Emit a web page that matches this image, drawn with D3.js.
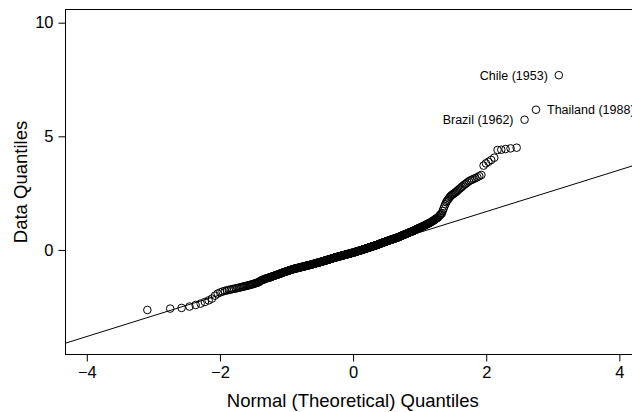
<!DOCTYPE html>
<html>
<head>
<meta charset="utf-8">
<script src="https://cdn.jsdelivr.net/npm/d3@7"></script>
<style>
    body { margin: 0; background: #fff; }
    svg { display: block; font-family: "Liberation Sans", Arial, Helvetica, sans-serif; }
    .tick line { stroke: #000; }
    .tick text { font-size: 16.5px; fill: #000; }
    .axis-title { font-size: 18.5px; fill: #000; }
    .label { font-size: 12.5px; fill: #000; }
</style>
</head>
<body>
<div id="chart"></div>
<script>
//Datos (ordenados, 500 observaciones)
const dataValues = [
    -2.64, -2.58, -2.55, -2.49, -2.42, -2.36, -2.29, -2.22, -2.14, -2.01, -1.92, -1.87,
    -1.83, -1.80,
    -1.78, -1.76, -1.74, -1.72, -1.71, -1.69, -1.68, -1.66, -1.65, -1.63,
    -1.62, -1.60, -1.59, -1.58, -1.56, -1.55, -1.54, -1.52, -1.51, -1.50,
    -1.48, -1.47, -1.45, -1.44, -1.42, -1.41, -1.38, -1.35, -1.33, -1.32,
    -1.30, -1.29, -1.28, -1.26, -1.25,
    -1.24, -1.23, -1.22, -1.21, -1.20, -1.19, -1.17, -1.16, -1.15, -1.14,
    -1.13, -1.12, -1.11, -1.10, -1.09, -1.08, -1.07, -1.06, -1.05, -1.04,
    -1.03, -1.02, -1.01, -1.00, -0.99, -0.98, -0.97, -0.96, -0.96, -0.95,
    -0.94, -0.93, -0.92, -0.92, -0.91, -0.90, -0.89, -0.88, -0.88, -0.87,
    -0.86, -0.85, -0.85, -0.84, -0.84, -0.83, -0.82, -0.82, -0.81, -0.81,
    -0.80, -0.80, -0.79, -0.79, -0.78, -0.78, -0.77, -0.77, -0.76, -0.76,
    -0.75, -0.75, -0.74, -0.74, -0.73, -0.73, -0.72, -0.72, -0.71, -0.71, -0.70, -0.70, -0.69, -0.69, -0.68,
    -0.68, -0.68, -0.67, -0.67, -0.66, -0.66, -0.65, -0.65, -0.64, -0.64,
    -0.63, -0.63, -0.62, -0.62, -0.61, -0.61, -0.60, -0.60, -0.59, -0.59,
    -0.58, -0.58, -0.57, -0.57, -0.56,
    -0.56, -0.56, -0.55, -0.55, -0.54, -0.54, -0.53, -0.53, -0.52, -0.52,
    -0.51, -0.51, -0.50, -0.50, -0.49, -0.49, -0.48, -0.48, -0.47, -0.47,
    -0.46, -0.46, -0.45, -0.45, -0.44,
    -0.44, -0.44, -0.43, -0.43, -0.42, -0.42, -0.41, -0.41, -0.40, -0.40,
    -0.39, -0.39, -0.38, -0.38, -0.37, -0.37, -0.36, -0.36, -0.35, -0.35,
    -0.34, -0.34, -0.33, -0.33, -0.32,
    -0.32, -0.32, -0.31, -0.31, -0.31, -0.30, -0.30, -0.29, -0.29, -0.28,
    -0.28, -0.28, -0.27, -0.27, -0.26, -0.26, -0.26, -0.25, -0.25, -0.24,
    -0.24, -0.24, -0.23, -0.23, -0.22,
    -0.22, -0.22, -0.21, -0.21, -0.21, -0.20, -0.20, -0.19, -0.19, -0.18,
    -0.18, -0.18, -0.17, -0.17, -0.16, -0.16, -0.16, -0.15, -0.15, -0.14,
    -0.14, -0.14, -0.13, -0.13, -0.12,
    -0.12, -0.12, -0.11, -0.11, -0.10, -0.10, -0.09, -0.09, -0.08, -0.08,
    -0.08, -0.07, -0.07, -0.06, -0.06, -0.05, -0.05, -0.04, -0.04, -0.03,
    -0.03, -0.03, -0.02, -0.02, -0.01,
    -0.01, 0.00, 0.00, 0.01, 0.01, 0.02, 0.02, 0.03, 0.03, 0.04,
    0.04, 0.05, 0.05, 0.06, 0.06, 0.07, 0.07, 0.08, 0.08, 0.09,
    0.09, 0.10, 0.10, 0.11, 0.11,
    0.12, 0.12, 0.13, 0.13, 0.14, 0.14, 0.15, 0.15, 0.16, 0.16,
    0.17, 0.17, 0.18, 0.18, 0.19, 0.19, 0.20, 0.20, 0.21, 0.21,
    0.22, 0.22, 0.23, 0.23, 0.24,
    0.25, 0.26, 0.26, 0.27, 0.27, 0.28, 0.29, 0.29, 0.30, 0.30,
    0.31, 0.32, 0.32, 0.33, 0.33, 0.34, 0.35, 0.35, 0.36, 0.36,
    0.37, 0.38, 0.38, 0.39, 0.39,
    0.40, 0.41, 0.41, 0.42, 0.42, 0.43, 0.44, 0.44, 0.45, 0.45,
    0.46, 0.47, 0.47, 0.48, 0.48, 0.49, 0.50, 0.50, 0.51, 0.51,
    0.52, 0.53, 0.53, 0.54, 0.54,
    0.55, 0.56, 0.57, 0.58, 0.58, 0.59, 0.60, 0.61, 0.62, 0.63,
    0.63, 0.64, 0.65, 0.66, 0.67, 0.68, 0.68, 0.69, 0.70, 0.71,
    0.72, 0.73, 0.73, 0.74, 0.75,
    0.76, 0.77, 0.78, 0.79, 0.80, 0.80, 0.81, 0.82, 0.83, 0.84,
    0.85, 0.86, 0.87, 0.88, 0.89, 0.91, 0.92, 0.93, 0.94, 0.95,
    0.96, 0.97, 0.98, 1.00, 1.01, 1.02, 1.03, 1.04, 1.06, 1.07,
    1.08, 1.09, 1.11, 1.12, 1.14, 1.15, 1.16, 1.18, 1.19, 1.21,
    1.22, 1.24, 1.26, 1.28, 1.30, 1.32, 1.35, 1.37, 1.39, 1.41,
    1.43, 1.47, 1.51, 1.55, 1.58,
    1.62, 1.72, 1.82, 1.92, 2.01,
    2.10, 2.16, 2.22, 2.27, 2.33, 2.38, 2.42, 2.45, 2.48, 2.52,
    2.55, 2.60, 2.64, 2.69, 2.73, 2.78, 2.83, 2.88, 2.92, 2.97,
    3.02, 3.06, 3.09, 3.13, 3.16,
    3.20, 3.25, 3.30,
    3.71, 3.81, 3.88, 3.96, 4.06,
    4.40, 4.41, 4.44, 4.47, 4.50,
    5.73, 6.17, 7.69
];

//Etiquetas de los puntos extremos (posición en los datos ordenados, base 1)
const labelNames = ['Brazil (1962)', 'Thailand (1988)', 'Chile (1953)'];
const labelRanks = [498, 499, 500];
const labelSides = ['left', 'right', 'left'];

//Ejes
const xTicks = [-4, -2, 0, 2, 4];
const yTicks = [0, 5, 10];
const xDomain = [-4.32, 4.31];
const yDomain = [-4.60, 10.58];

//Recta de referencia (qqline)
const lineSlope = 0.916;
const lineIntercept = -0.145;

//Cuantil de la normal estándar (Acklam)
function qnorm(p) {
    const a = [-3.969683028665376e+01, 2.209460984245205e+02, -2.759285104469687e+02, 1.383577518672690e+02, -3.066479806614716e+01, 2.506628277459239e+00];
    const b = [-5.447609879822406e+01, 1.615858368580409e+02, -1.556989798598866e+02, 6.680131188771972e+01, -1.328068155288572e+01];
    const c = [-7.784894002430293e-03, -3.223964580411365e-01, -2.400758277161838e+00, -2.549732539343734e+00, 4.374664141464968e+00, 2.938163982698783e+00];
    const d = [7.784695709041462e-03, 3.224671290700398e-01, 2.445134137142996e+00, 3.754408661907416e+00];
    const pl = 0.02425;
    let q, r;
    if (p < pl) {
        q = Math.sqrt(-2 * Math.log(p));
        return (((((c[0]*q + c[1])*q + c[2])*q + c[3])*q + c[4])*q + c[5]) / ((((d[0]*q + d[1])*q + d[2])*q + d[3])*q + 1);
    }
    if (p > 1 - pl) {
        return -qnorm(1 - p);
    }
    q = p - 0.5;
    r = q * q;
    return (((((a[0]*r + a[1])*r + a[2])*r + a[3])*r + a[4])*r + a[5]) * q / (((((b[0]*r + b[1])*r + b[2])*r + b[3])*r + b[4])*r + 1);
}

let sorted = dataValues.slice().sort(function(a, b) { return a - b; });
let n = sorted.length;
let points = sorted.map(function(v, i) {
    return { x: qnorm((i + 1 - 0.5) / n), y: v, rank: i + 1 };
});

let width = 632, height = 412;
let plot = { left: 65.5, right: 640, top: 9.5, bottom: 354.5 };

let svg = d3.select('#chart')
    .append('svg')
        .attr('width', width)
        .attr('height', height);

let x = d3.scaleLinear()
    .domain(xDomain)
    .range([plot.left, plot.right]);

let y = d3.scaleLinear()
    .domain(yDomain)
    .range([plot.bottom, plot.top]);

svg.append('defs').append('clipPath')
    .attr('id', 'clip')
    .append('rect')
        .attr('x', plot.left)
        .attr('y', plot.top)
        .attr('width', plot.right - plot.left)
        .attr('height', plot.bottom - plot.top);

// X axis
svg.append('g')
    .attr('transform', 'translate(0,' + plot.bottom + ')')
    .call(d3.axisBottom(x).tickValues(xTicks).tickSizeInner(7).tickSizeOuter(0).tickPadding(5)
        .tickFormat(function(d) { return d < 0 ? '\u2212' + Math.abs(d) : d; }))
    .call(function(g) { g.select('.domain').remove(); });

// Y axis
svg.append('g')
    .attr('transform', 'translate(' + plot.left + ',0)')
    .call(d3.axisLeft(y).tickValues(yTicks).tickSizeInner(7).tickSizeOuter(0).tickPadding(5))
    .call(function(g) { g.select('.domain').remove(); });

// Marco
svg.append('rect')
    .attr('x', plot.left)
    .attr('y', plot.top)
    .attr('width', plot.right - plot.left)
    .attr('height', plot.bottom - plot.top)
    .attr('fill', 'none')
    .attr('stroke', '#000')
    .attr('stroke-width', 1);

// Títulos
svg.append('text')
    .attr('class', 'axis-title')
    .attr('x', (plot.left + plot.right) / 2)
    .attr('y', 407)
    .attr('text-anchor', 'middle')
    .text('Normal (Theoretical) Quantiles');

svg.append('text')
    .attr('class', 'axis-title')
    .attr('transform', 'translate(27,' + ((plot.top + plot.bottom) / 2) + ') rotate(-90)')
    .attr('text-anchor', 'middle')
    .text('Data Quantiles');

// Recta
svg.append('line')
    .attr('clip-path', 'url(#clip)')
    .attr('x1', x(xDomain[0]))
    .attr('y1', y(lineIntercept + lineSlope * xDomain[0]))
    .attr('x2', x(xDomain[1]))
    .attr('y2', y(lineIntercept + lineSlope * xDomain[1]))
    .attr('stroke', '#000')
    .attr('stroke-width', 1);

// Puntos
svg.append('g')
    .selectAll('circle')
    .data(points)
    .enter()
    .append('circle')
        .attr('cx', function(d) { return x(d.x); })
        .attr('cy', function(d) { return y(d.y); })
        .attr('r', 3.8)
        .attr('fill', 'none')
        .attr('stroke', '#000')
        .attr('stroke-width', 1);

// Etiquetas
svg.append('g')
    .selectAll('text')
    .data(labelNames)
    .enter()
    .append('text')
        .attr('class', 'label')
        .attr('x', function(d, i) {
            let p = points[labelRanks[i] - 1];
            return x(p.x) + (labelSides[i] == 'left' ? -11 : 11);
        })
        .attr('y', function(d, i) { return y(points[labelRanks[i] - 1].y); })
        .attr('dy', '0.36em')
        .attr('text-anchor', function(d, i) { return labelSides[i] == 'left' ? 'end' : 'start'; })
        .text(function(d) { return d; });
</script>
</body>
</html>
